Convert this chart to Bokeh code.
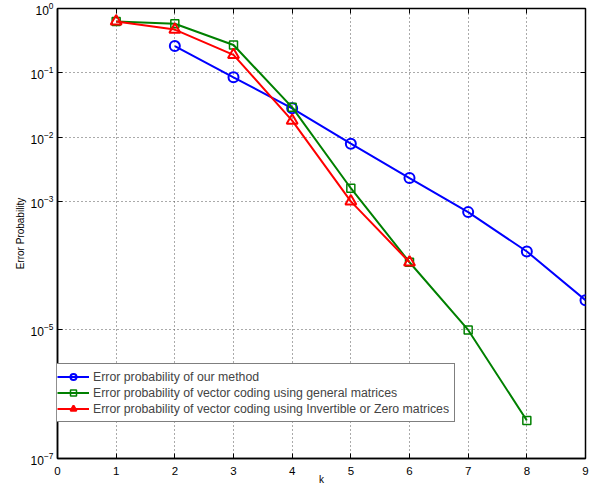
from bokeh.plotting import figure
from bokeh.models import (Range1d, FixedTicker, Legend, LegendItem, LinearAxis,
                          LogAxis, CustomJSTickFormatter)
from bokeh.embed import file_html
from bokeh.resources import INLINE

# data
k_ours = [2, 3, 4, 5, 6, 7, 8, 9]
p_ours = [0.26, 0.085, 0.028, 0.0079, 0.0023, 6.8e-4, 1.66e-4, 2.9e-5]

k_general = [1, 2, 3, 4, 5, 6, 7, 8]
p_general = [0.63, 0.58, 0.27, 0.029, 1.6e-3, 1.13e-4, 1.0e-5, 3.9e-7]

k_inv = [1, 2, 3, 4, 5, 6]
p_inv = [0.63, 0.47, 0.19, 0.018, 1.0e-3, 1.13e-4]

x_ticks = [0, 1, 2, 3, 4, 5, 6, 7, 8, 9]
y_ticks = [1e-7, 1e-5, 1e-3, 1e-2, 1e-1, 1]

labels = [
    "Error probability of our method",
    "Error probability of vector coding using general matrices",
    "Error probability of vector coding using Invertible or Zero matrices",
]

FONT = "Liberation Sans"

p = figure(width=593, height=492, y_axis_type="log",
           x_range=Range1d(0, 9), y_range=Range1d(1e-7, 1),
           output_backend="svg", toolbar_location=None,
           min_border_left=57, min_border_right=8, min_border_top=8,
           min_border_bottom=34)
p.background_fill_color = "white"
p.border_fill_color = "white"
p.outline_line_color = "black"
p.outline_line_width = 1.5

p.xaxis.ticker = FixedTicker(ticks=x_ticks)
p.yaxis.ticker = FixedTicker(ticks=y_ticks)
for ax in (p.xaxis, p.yaxis):
    ax.major_tick_in = 5
    ax.major_tick_out = 0
    ax.minor_tick_line_color = None
    ax.axis_line_color = "black"
    ax.axis_line_width = 1.5
    ax.major_tick_line_color = "black"
    ax.major_label_text_font = FONT
    ax.major_label_text_font_size = "12px"
    ax.major_label_text_color = "black"
    ax.axis_label_text_font = FONT
    ax.axis_label_text_font_size = "10px"
    ax.axis_label_text_font_style = "normal"
    ax.axis_label_text_color = "black"
p.xaxis.major_label_text_font_size = "11.5px"
p.xaxis.axis_label = "k"
p.yaxis.axis_label = "Error Probability"
p.xaxis.major_label_standoff = 8
p.xaxis.axis_label_standoff = -4
p.yaxis.major_label_standoff = 4
p.yaxis.axis_label_standoff = 2

# inward ticks on the top and right edges of the box
blank = CustomJSTickFormatter(code="return ''")
top = LinearAxis(ticker=FixedTicker(ticks=x_ticks), formatter=blank,
                 major_tick_in=5, major_tick_out=0, major_label_standoff=0,
                 minor_tick_line_color=None, axis_line_color=None)
right = LogAxis(ticker=FixedTicker(ticks=y_ticks), formatter=blank,
                major_tick_in=5, major_tick_out=0, major_label_standoff=0,
                minor_tick_line_color=None, axis_line_color=None)
p.add_layout(top, "above")
p.add_layout(right, "right")

p.grid.grid_line_color = "#555555"
p.grid.grid_line_dash = "1 3"
p.grid.grid_line_width = 1

l1 = p.line(k_ours, p_ours, line_color="#0000FF", line_width=2)
s1 = p.scatter(k_ours, p_ours, marker="circle", size=10, fill_color=None,
               line_color="#0000FF", line_width=2)
l2 = p.line(k_general, p_general, line_color="#008000", line_width=2)
s2 = p.scatter(k_general, p_general, marker="square", size=8, fill_color=None,
               line_color="#008000", line_width=1.5)
l3 = p.line(k_inv, p_inv, line_color="#FF0000", line_width=2)
s3 = p.scatter(k_inv, p_inv, marker="triangle", size=11, fill_color=None,
               line_color="#FF0000", line_width=2)

legend = Legend(items=[
    LegendItem(label=labels[0], renderers=[l1, s1]),
    LegendItem(label=labels[1], renderers=[l2, s2]),
    LegendItem(label=labels[2], renderers=[l3, s3]),
], location=(-6, 36))
legend.label_text_font = FONT
legend.label_text_font_size = "12.3px"
legend.label_height = 15
legend.glyph_height = 15
legend.glyph_width = 32
legend.spacing = 1
legend.padding = 5
legend.margin = 0
legend.label_standoff = 4
legend.border_line_color = "black"
legend.border_line_width = 1.2
legend.background_fill_alpha = 1
p.add_layout(legend)

open("out.html", "w").write(file_html(p, INLINE))
